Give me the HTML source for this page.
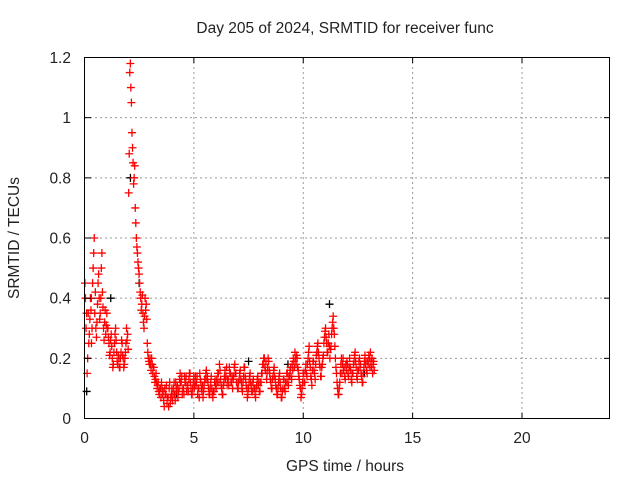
<!DOCTYPE html>
<html><head><meta charset="utf-8"><style>
body{margin:0;background:#fff}
svg text{font-family:"Liberation Sans",sans-serif;font-size:15.5px;fill:#222}
</style></head><body>
<svg id="c" width="640" height="480">
<rect width="640" height="480" fill="#fff"/>
<g id="grid"></g>
<g id="pts"></g>
<rect x="84.5" y="57.5" width="525" height="361" fill="none" stroke="#000" stroke-width="1"/>
<g id="ticks"></g>
<text x="345" y="33" text-anchor="middle">Day 205 of 2024, SRMTID for receiver func</text>
<text x="345" y="471" text-anchor="middle">GPS time / hours</text>
<text transform="translate(19,238) rotate(-90)" text-anchor="middle">SRMTID / TECUs</text>
</svg>
<script>
const xTicks=[0,5,10,15,20];
const yTicks=[0,0.2,0.4,0.6,0.8,1,1.2];
const yTickLabels=["0","0.2","0.4","0.6","0.8","1","1.2"];
const tStep=0.05;
const values=[
0.45,0.30,0.15,0.35,0.28,0.40,0.25,0.45,0.55,0.35,0.30,0.32,0.45,0.40,0.35,0.50,0.42,0.30,0.32,0.28,
0.35,0.30,0.25,0.22,0.28,0.20,0.18,0.25,0.30,0.22,0.18,0.20,0.17,0.22,0.25,0.20,0.18,0.22,0.30,0.28,
0.75,1.15,1.10,0.95,0.85,0.80,0.70,0.60,0.55,0.50,0.45,0.40,0.38,0.35,0.30,0.40,0.38,0.25,0.20,0.18,
0.18,0.20,0.15,0.17,0.12,0.15,0.10,0.12,0.08,0.10,0.12,0.08,0.06,0.10,0.08,0.05,0.07,0.10,0.05,0.08,
0.06,0.10,0.08,0.12,0.09,0.07,0.10,0.15,0.12,0.08,0.10,0.14,0.12,0.09,0.11,0.13,0.15,0.10,0.08,0.12,
0.10,0.14,0.12,0.08,0.10,0.15,0.12,0.09,0.07,0.11,0.13,0.16,0.14,0.10,0.08,0.12,0.10,0.07,0.09,0.13,
0.10,0.12,0.15,0.18,0.13,0.10,0.08,0.12,0.16,0.14,0.11,0.13,0.17,0.15,0.12,0.10,0.14,0.18,0.15,0.12,
0.10,0.13,0.16,0.12,0.09,0.14,0.17,0.13,0.10,0.08,0.12,0.15,0.11,0.09,0.13,0.10,0.07,0.11,0.14,0.12,
0.09,0.12,0.15,0.18,0.20,0.16,0.13,0.17,0.19,0.15,0.12,0.10,0.14,0.17,0.13,0.10,0.08,0.12,0.15,0.10,
0.07,0.10,0.13,0.09,0.12,0.15,0.11,0.14,0.17,0.13,0.16,0.19,0.22,0.18,0.20,0.16,0.13,0.10,0.08,0.12,
0.15,0.12,0.18,0.14,0.20,0.24,0.17,0.13,0.16,0.19,0.15,0.18,0.22,0.25,0.20,0.17,0.14,0.18,0.21,0.27,
0.30,0.25,0.22,0.28,0.20,0.24,0.30,0.34,0.28,0.20,0.15,0.10,0.08,0.12,0.18,0.15,0.20,0.17,0.13,0.16,
0.18,0.14,0.20,0.16,0.12,0.15,0.19,0.22,0.17,0.13,0.16,0.20,0.18,0.14,0.12,0.17,0.21,0.19,0.15,0.18,0.20,0.22,0.17,0.15,0.19];
const valuesB=[
0.40,0.35,0.20,0.25,0.33,0.36,0.30,0.50,0.60,0.42,0.27,0.38,0.48,0.33,0.40,0.55,0.37,0.26,0.36,0.31,
0.30,0.27,0.21,0.26,0.24,0.17,0.22,0.28,0.26,0.19,0.21,0.17,0.20,0.26,0.21,0.17,0.20,0.25,0.26,0.23,
0.88,1.18,1.05,0.90,0.78,0.84,0.65,0.57,0.52,0.48,0.42,0.36,0.41,0.32,0.34,0.36,0.33,0.22,0.19,0.20,
0.16,0.18,0.17,0.14,0.13,0.12,0.11,0.09,0.10,0.07,0.10,0.09,0.04,0.08,0.11,0.07,0.04,0.12,0.07,0.10,
0.08,0.12,0.06,0.10,0.11,0.09,0.13,0.12,0.14,0.10,0.08,0.12,0.14,0.11,0.09,0.15,0.12,0.08,0.10,0.14,
0.12,0.11,0.14,0.10,0.07,0.13,0.10,0.11,0.09,0.13,0.15,0.13,0.12,0.08,0.10,0.14,0.08,0.09,0.12,0.11,
0.13,0.15,0.12,0.16,0.11,0.08,0.11,0.14,0.13,0.17,0.13,0.11,0.15,0.12,0.14,0.13,0.17,0.15,0.12,0.10,
0.12,0.15,0.13,0.10,0.12,0.17,0.14,0.11,0.07,0.10,0.14,0.12,0.09,0.12,0.10,0.08,0.10,0.13,0.11,0.09,
0.12,0.15,0.18,0.20,0.17,0.19,0.15,0.20,0.16,0.13,0.10,0.13,0.16,0.14,0.11,0.08,0.10,0.14,0.12,0.07,
0.09,0.13,0.10,0.12,0.15,0.12,0.14,0.16,0.14,0.18,0.20,0.17,0.20,0.21,0.17,0.14,0.11,0.07,0.10,0.15,
0.12,0.16,0.15,0.18,0.22,0.19,0.14,0.11,0.19,0.16,0.13,0.21,0.24,0.22,0.18,0.14,0.17,0.20,0.25,0.29,
0.27,0.22,0.25,0.24,0.23,0.28,0.32,0.30,0.24,0.17,0.12,0.08,0.10,0.15,0.20,0.18,0.16,0.14,0.18,0.19,
0.15,0.17,0.17,0.13,0.15,0.18,0.21,0.19,0.14,0.16,0.19,0.17,0.15,0.12,0.15,0.19,0.18,0.16,0.19,0.21,0.17,0.19,0.20,0.18,0.16];
const blackTimes=[0.1,0.3,1.2,2.1,2.5,4.2,7.5,9.3,11.2,12.8];
const blackValues=[0.09,0.40,0.40,0.80,0.45,0.08,0.19,0.18,0.38,0.15];
const X=v=>84.5+v*525/24, Y=v=>418.5-v*361/1.2;
const NS="http://www.w3.org/2000/svg";
const g=document.getElementById('grid'),tk=document.getElementById('ticks'),p=document.getElementById('pts');
function mk(tag,at,par){const e=document.createElementNS(NS,tag);for(const k in at)e.setAttribute(k,at[k]);par.appendChild(e);return e;}
xTicks.forEach(t=>{const x=X(t);
 if(t>0){const l=mk('line',{x1:x,x2:x,y1:57,y2:419,stroke:'#999','stroke-dasharray':'2,3'},g);
 
 }
 mk('line',{x1:x,x2:x,y1:419,y2:413,stroke:'#000'},tk);mk('line',{x1:x,x2:x,y1:57,y2:63,stroke:'#000'},tk);
 const tx=mk('text',{x:x,y:443,'text-anchor':'middle'},tk);tx.textContent=t;
 
 });
yTicks.forEach((t,i)=>{const y=Y(t);
 if(t>0&&t<1.2){const l=mk('line',{x1:85,x2:610,y1:y,y2:y,stroke:'#999','stroke-dasharray':'2,3'},g);
 
 }
 mk('line',{x1:85,x2:91,y1:y,y2:y,stroke:'#000'},tk);mk('line',{x1:610,x2:604,y1:y,y2:y,stroke:'#000'},tk);
 const tx=mk('text',{x:71,y:y+5.5,'text-anchor':'end'},tk);tx.textContent=yTickLabels[i];
 
 });
function plus(x,y,c){return mk('path',{d:`M${x-4},${y}h8M${x},${y-4}v8`,stroke:c,'stroke-width':1.3,fill:'none'},p);}
blackTimes.forEach((t,i)=>{const e=plus(X(t),Y(blackValues[i]),'#000');
 
 });
values.forEach((v,i)=>{const e=plus(X(i*tStep+0.02),Y(v),'#f00');
 
 });
valuesB.forEach((v,i)=>{const e=plus(X(i*tStep+0.045),Y(v),'#f00');
 
 });
</script>
</body></html>
